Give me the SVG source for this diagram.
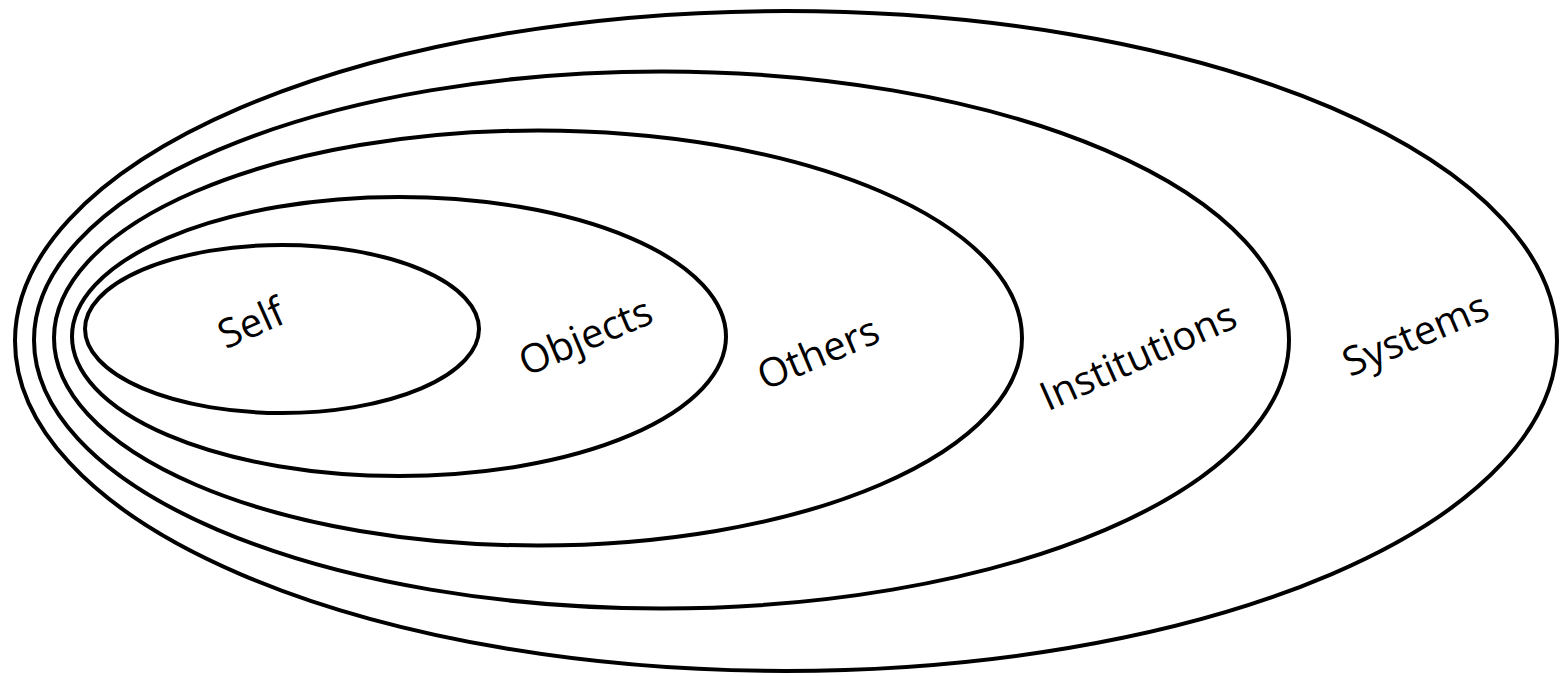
<svg xmlns="http://www.w3.org/2000/svg" width="1560" height="676" viewBox="0 0 1560 676">
<style>
.ring{fill:none;stroke:#000;stroke-width:4}
.lbl{font-family:"Open Sans","Liberation Sans",sans-serif;font-size:40px;fill:#000;text-anchor:middle}
</style>
<rect width="1560" height="676" fill="#fff"/>
<g id="systems">
<ellipse class="ring" cx="786" cy="341" rx="771" ry="330"/>
<text class="lbl" transform="translate(1417,338) rotate(-23)" x="0" y="10">Systems</text>
</g>
<g id="institutions">
<ellipse class="ring" cx="661.5" cy="340" rx="627.5" ry="268.5"/>
<text class="lbl" transform="translate(1138,356) rotate(-24)" x="0" y="14">Institutions</text>
</g>
<g id="others">
<ellipse class="ring" cx="538" cy="338" rx="484" ry="207.5"/>
<text class="lbl" transform="translate(818,353) rotate(-23)" x="0" y="14">Others</text>
</g>
<g id="objects">
<ellipse class="ring" cx="399" cy="336.5" rx="327" ry="139.5"/>
<text class="lbl" transform="translate(587,340) rotate(-23)" x="0" y="10">Objects</text>
</g>
<g id="self">
<ellipse class="ring" cx="282" cy="329" rx="197" ry="84"/>
<text class="lbl" transform="translate(251,323) rotate(-24)" x="0" y="14">Self</text>
</g>
<g id="connectors"></g>
</svg>
